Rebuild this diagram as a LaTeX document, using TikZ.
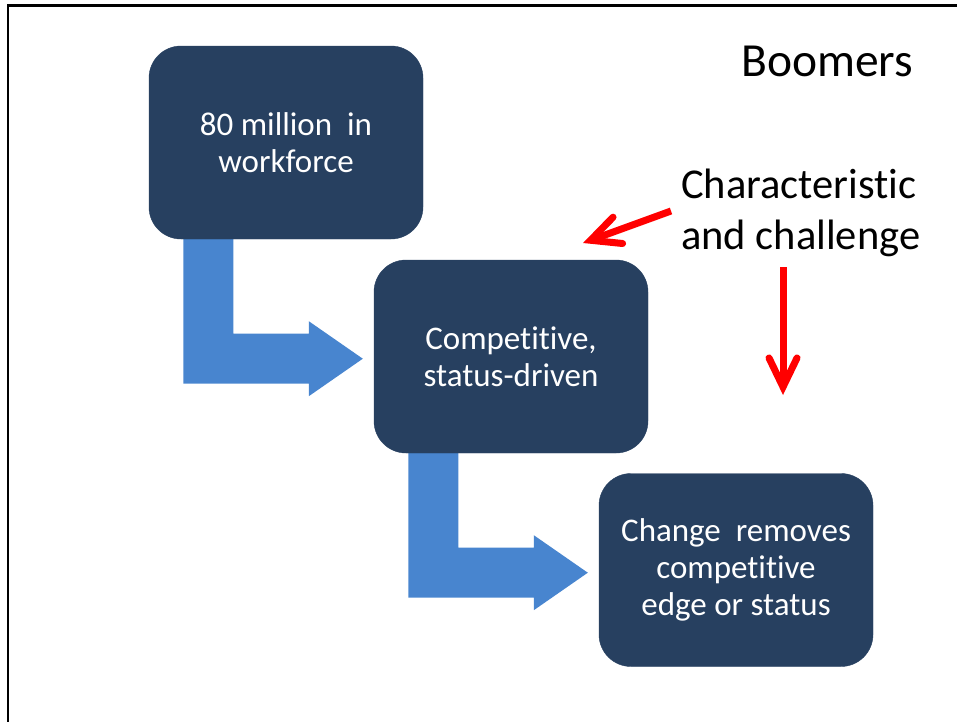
\documentclass[tikz,border=0pt]{standalone}
\usepackage{fontspec}
\setmainfont{Carlito}[RawFeature={-liga}]
\usetikzlibrary{arrows.meta,calc,backgrounds}
\definecolor{boxnavy}{RGB}{39,64,96}
\definecolor{arrowblue}{RGB}{72,133,207}
\definecolor{pointred}{RGB}{255,0,0}
\begin{document}
\begin{tikzpicture}[x=1pt,y=-1pt,
  box/.style={draw=boxnavy, fill=boxnavy, rounded corners=32pt,
    minimum width=274pt, minimum height=193pt, inner sep=0pt,
    text=white, align=center, font=\fontsize{33}{37}\selectfont},
  bentarrow/.style={fill=arrowblue},
  redarrow/.style={draw=pointred, line width=7pt, line cap=butt,
    -{Straight Barb[length=29pt,width=28pt,line cap=round,line join=miter]}},
  bigtext/.style={inner sep=0pt, text=black}]
\useasboundingbox (0,0) rectangle (957,721);
\clip (0,0) rectangle (957,721);
\draw[line width=2.5pt] (7.8,740) -- (7.8,5.3) -- (980,5.3);

\node[box] (b1) at (286,142.5) {80 million~ in\\workforce};
\node[box] (b2) at (511,356.5) {Competitive,\\status-driven};
\node[box] (b3) at (736,570) {Change~ removes\\competitive\\edge or status};

\begin{scope}[on background layer]
\fill[bentarrow] ($(b1.south west)+(34.5,-4)$) -- ++(50,0) -- ++(0,98.5)
  -- ++(75.5,0) -- ++(0,-12.5) -- ++(54,37.5) -- ++(-54,37.5)
  -- ++(0,-12.5) -- ++(-125.5,0) -- cycle;
\fill[bentarrow] ($(b2.south west)+(34.5,-4)$) -- ++(50,0) -- ++(0,98.5)
  -- ++(75.5,0) -- ++(0,-12.5) -- ++(54,37.5) -- ++(-54,37.5)
  -- ++(0,-12.5) -- ++(-125.5,0) -- cycle;
\end{scope}

\node[bigtext, font=\fontsize{47.5}{57}\selectfont, anchor=base west] (title) at (741,76) {Boomers};
\node[bigtext, font=\fontsize{42.5}{51}\selectfont, align=left, anchor=base west] (note) at (681,249) {Characteristic\\and challenge};

\coordinate (a1s) at (671,211);
\coordinate (a1e) at (583,243);
\coordinate (a2s) at (783,267);
\coordinate (a2e) at (783,395);
\draw[redarrow] (a1s) -- (a1e);
\draw[redarrow] (a2s) -- (a2e);
\end{tikzpicture}
\end{document}
